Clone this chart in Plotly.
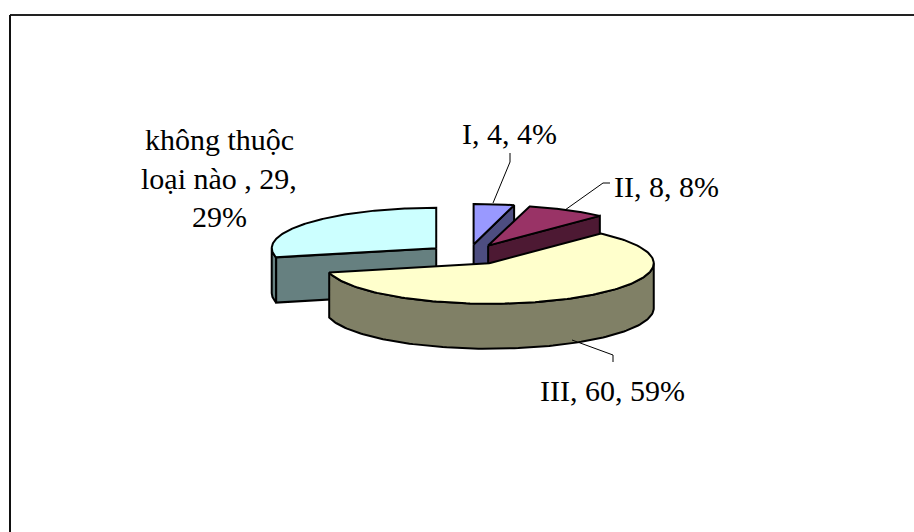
import numpy as np
import plotly.graph_objects as go

# Survey classes and counts, in clockwise order from twelve o'clock
categories = ["I", "II", "III", "không thuộc loại nào "]
values = [4, 8, 60, 29]
top_colors = ["#9999FF", "#993366", "#FFFFCC", "#CCFFFF"]
side_colors = ["#4D4D80", "#4D1933", "#808066", "#668080"]

# Projected pie geometry, in pixels of the 914x532 canvas
CX, CY = 468.5, 254.5
RX, RY = 164.5, 40.5
DEPTH = 45.0
EXPLODE = 0.25
OUTLINE = "#000000"
OUTLINE_W = 2

total = sum(values)
edges = np.radians(np.concatenate([[0.0], np.cumsum(values) / total * 360.0]))

# Which radial cut of each slice faces the viewer (0 = start edge, 1 = end edge)
cut_face = {0: 1, 1: 1, 3: 0}


def apex_of(i):
    mid = (edges[i] + edges[i + 1]) / 2
    return CX + EXPLODE * RX * np.sin(mid), CY - EXPLODE * RY * np.cos(mid)


def rim(ax, ay, theta):
    return ax + RX * np.sin(theta), ay - RY * np.cos(theta)


def poly(fig, xs, ys, color):
    fig.add_trace(go.Scatter(
        x=xs, y=ys, mode="lines", fill="toself", fillcolor=color,
        line=dict(color=OUTLINE, width=OUTLINE_W),
        hoverinfo="skip", showlegend=False,
    ))


def outer_wall(fig, i, lo, hi):
    ax, ay = apex_of(i)
    t = np.linspace(lo, hi, 120)
    xs, ys = rim(ax, ay, t)
    poly(fig,
         np.concatenate([xs, xs[::-1], xs[:1]]),
         np.concatenate([ys, ys[::-1] + DEPTH, ys[:1]]),
         side_colors[i])


def draw_walls(fig, i):
    ax, ay = apex_of(i)
    lo, hi = max(edges[i], np.pi / 2), min(edges[i + 1], 3 * np.pi / 2)
    if hi > lo:
        outer_wall(fig, i, lo, hi)
    if i in cut_face:
        theta = edges[i + cut_face[i]]
        rx, ry = rim(ax, ay, theta)
        poly(fig, [ax, rx, rx, ax, ax], [ay, ry, ry + DEPTH, ay + DEPTH, ay], side_colors[i])


def draw_top(fig, i):
    ax, ay = apex_of(i)
    t = np.linspace(edges[i], edges[i + 1], 160)
    xs, ys = rim(ax, ay, t)
    poly(fig,
         np.concatenate([[ax], xs, [ax]]),
         np.concatenate([[ay], ys, [ay]]),
         top_colors[i])


fig = go.Figure()

# Back-to-front painting order
for i in (3, 0, 1, 2):
    draw_walls(fig, i)
    draw_top(fig, i)

# Leader lines from slices to their labels
leaders = [
    ([493, 510, 510], [203, 162, 153]),
    ([565, 603, 610], [210, 183, 183]),
    ([572, 613, 613], [340, 355, 362]),
]
for lx, ly in leaders:
    fig.add_trace(go.Scatter(x=lx, y=ly, mode="lines",
                             line=dict(color="#000000", width=1),
                             hoverinfo="skip", showlegend=False))

pct = [round(v / total * 100) for v in values]
FONT = dict(family="Liberation Serif", size=30, color="#000000")


def note(x, y, text):
    fig.add_annotation(x=x, y=y, text=text, showarrow=False, font=FONT,
                       xanchor="center", yanchor="middle")


note(509, 133, f"{categories[0]}, {values[0]}, {pct[0]}%")
note(666, 186, f"{categories[1]}, {values[1]}, {pct[1]}%")
note(612, 390, f"{categories[2]}, {values[2]}, {pct[2]}%")

# The long label wraps over three lines
note(219, 139, "không thuộc")
note(219, 178, f"loại nào , {values[3]},")
note(219, 216, f"{pct[3]}%")

fig.update_layout(
    width=914, height=532,
    margin=dict(l=0, r=0, t=0, b=0),
    paper_bgcolor="#FFFFFF", plot_bgcolor="#FFFFFF",
    xaxis=dict(range=[0, 914], visible=False, fixedrange=True),
    yaxis=dict(range=[532, 0], visible=False, fixedrange=True),
    shapes=[
        dict(type="line", x0=10, x1=914, y0=15, y1=15, line=dict(color="#222222", width=2)),
        dict(type="line", x0=10, x1=10, y0=15, y1=532, line=dict(color="#111111", width=2)),
    ],
)

fig.write_html("out.html", config=dict(displayModeBar=False))
